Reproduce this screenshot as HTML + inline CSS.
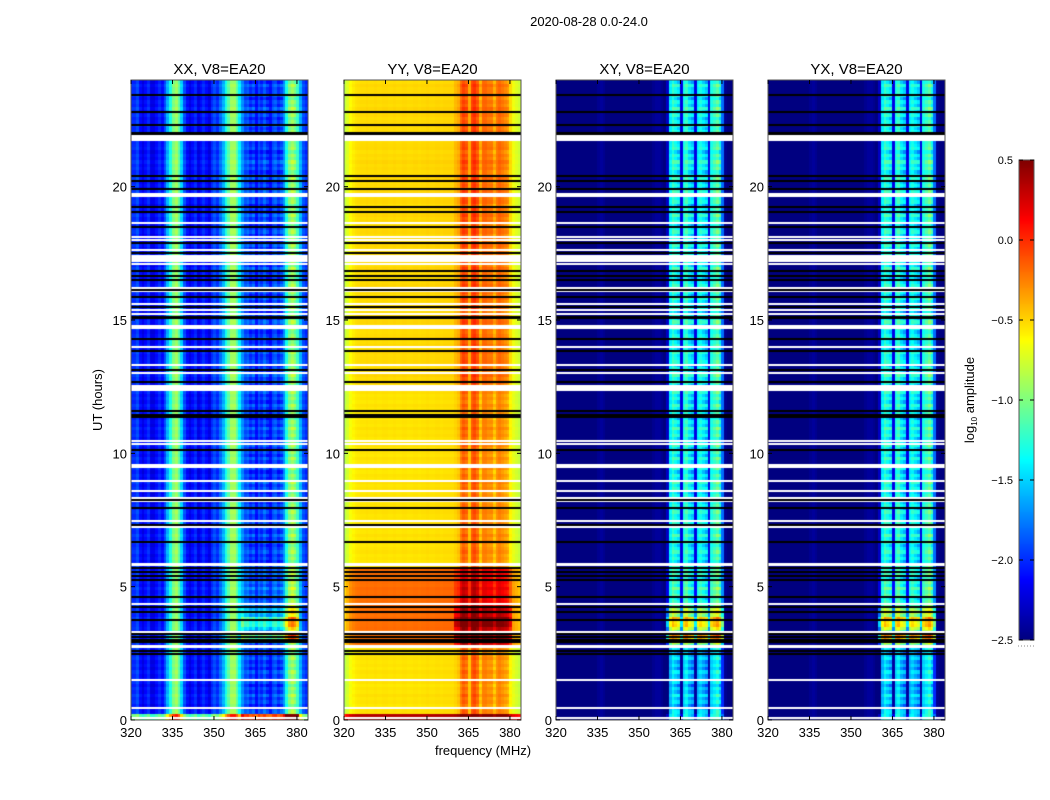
<!DOCTYPE html>
<html><head><meta charset="utf-8"><style>
html,body{margin:0;padding:0;background:#fff;}
#wrap{position:relative;width:1050px;height:800px;overflow:hidden;font-family:"Liberation Sans",sans-serif;}
canvas,svg{position:absolute;left:0;top:0;}
</style></head><body>
<div id="wrap">
<canvas id="cv" width="1050" height="800"></canvas>
<svg id="sv" width="1050" height="800"></svg>
</div>
<script>
// ---- data ----
const freqStart = 320, freqEnd = 384;
const panelTitles = ["XX, V8=EA20","YY, V8=EA20","XY, V8=EA20","YX, V8=EA20"];
const xTickLabels = [320,335,350,365,380];
const yTickLabels = [0,5,10,15,20];
const cbTickLabels = [0.5,0.0,-0.5,-1.0,-1.5,-2.0,-2.5];
const profXX = [-2.0,-2.0,-1.9,-2.1,-2.2,-2.1,-2.0,-2.2,-2.2,-2.1,-2.0,-2.1,-1.9,-1.6,-1.3,-1.0,-0.9,-1.1,-1.5,-1.9,-2.1,-2.2,-2.1,-2.0,-2.2,-2.1,-2.0,-2.1,-2.2,-2.0,-1.9,-2.0,-1.8,-1.6,-1.3,-1.1,-0.9,-0.9,-1.1,-1.4,-1.7,-1.9,-1.85,-2.0,-1.9,-2.1,-1.9,-2.0,-1.85,-2.0,-2.1,-1.9,-1.85,-2.0,-1.9,-1.7,-1.3,-1.0,-0.9,-1.0,-1.2,-1.6,-1.9,-2.0];
const profYY = [-0.85,-0.75,-0.65,-0.6,-0.57,-0.56,-0.55,-0.55,-0.54,-0.55,-0.55,-0.54,-0.55,-0.55,-0.54,-0.54,-0.55,-0.55,-0.54,-0.55,-0.55,-0.54,-0.54,-0.55,-0.55,-0.54,-0.54,-0.55,-0.54,-0.54,-0.53,-0.54,-0.54,-0.53,-0.53,-0.54,-0.53,-0.53,-0.53,-0.53,-0.5,-0.45,-0.25,-0.15,-0.2,-0.45,-0.15,-0.1,-0.2,-0.45,-0.25,-0.25,-0.3,-0.3,-0.45,-0.3,-0.25,-0.3,-0.35,-0.4,-0.6,-0.7,-0.75,-0.8];
const profXY = [-2.5,-2.5,-2.5,-2.5,-2.5,-2.5,-2.5,-2.5,-2.5,-2.5,-2.5,-2.5,-2.5,-2.5,-2.5,-2.45,-2.42,-2.45,-2.5,-2.5,-2.5,-2.5,-2.5,-2.5,-2.5,-2.5,-2.5,-2.5,-2.5,-2.5,-2.5,-2.5,-2.5,-2.5,-2.5,-2.45,-2.42,-2.42,-2.45,-2.5,-2.3,-1.4,-1.2,-1.3,-1.4,-2.2,-1.3,-1.2,-1.4,-1.5,-2.2,-1.4,-1.3,-1.4,-1.5,-2.2,-1.3,-1.2,-1.1,-1.3,-1.8,-2.45,-2.5,-2.5];
const profYX = [-2.5,-2.5,-2.5,-2.5,-2.5,-2.5,-2.5,-2.5,-2.5,-2.5,-2.5,-2.5,-2.5,-2.5,-2.5,-2.45,-2.42,-2.45,-2.5,-2.5,-2.5,-2.5,-2.5,-2.5,-2.5,-2.5,-2.5,-2.5,-2.5,-2.5,-2.5,-2.5,-2.5,-2.5,-2.5,-2.45,-2.42,-2.42,-2.45,-2.5,-2.3,-1.4,-1.2,-1.3,-1.4,-2.2,-1.3,-1.2,-1.4,-1.5,-2.2,-1.4,-1.3,-1.4,-1.5,-2.2,-1.3,-1.2,-1.1,-1.3,-1.8,-2.45,-2.5,-2.5];
const segBounds = [0,0.2,2.8,3.0,3.3,3.5,3.9,4.3,5.8,12.4,24];
const broadXX = [1.0,0,0,0,0,0,0,0,0,0];
const rfiXX   = [0.9,0,0,0.9,0.4,0.7,0.4,0.1,0,0];
const broadYY = [0.9,0,0.35,0.35,0.35,0.35,0.35,0.35,0,0.03];
const rfiYY   = [0,0,0.2,0.45,0.25,0.45,0.3,0.1,0,0.05];
const broadXY = [0,0,0,0,0,0,0,0,0,0];
const rfiXY   = [0,-0.2,0.3,1.0,0.5,0.8,0.5,0.1,0,0];
const broadYX = [0,0,0,0,0,0,0,0,0,0];
const rfiYX   = [0,-0.2,0.3,1.0,0.5,0.8,0.5,0.1,0,0];
const rowTexture = [0.1,-0.2,0.3,0,-0.3,0.2,-0.1,0.4,-0.2,0.1,-0.4,0.2,0,-0.1,0.3,-0.3];
const flagStart = [21.71,19.61,18.6,18.08,17.97,17.63,17.17,17.08,16.83,16.2,16.09,15.6,15.38,15.23,14.66,14.0,13.3,13.0,12.52,12.34,10.45,10.33,9.55,9.5,8.96,8.58,8.32,8.2,7.47,7.24,5.77,4.35,3.3,2.7,1.5,0.45,0.08];
const flagEnd   = [21.94,19.76,18.66,18.14,18.03,17.68,17.44,17.12,16.87,16.24,16.13,15.64,15.42,15.27,14.81,14.04,13.34,13.04,12.56,12.52,10.5,10.38,9.59,9.54,9.0,8.62,8.36,8.24,7.51,7.28,5.89,4.39,3.34,2.81,1.54,0.49,0.12];
const gapLines = [23.44,22.8,22.31,22.01,21.98,20.4,20.21,19.91,19.24,19.05,18.49,17.89,17.51,16.84,16.65,16.5,16.13,15.86,15.49,15.11,15.08,14.29,13.84,13.13,12.68,11.59,11.44,11.36,10.13,8.25,7.95,7.31,6.68,5.7,5.55,5.4,5.25,4.61,4.24,4.05,3.75,3.23,3.11,3.0,2.93,2.59,2.48];

// ---- layout ----
const panelsX = [131,344,556,768], pw = 177, py0 = 80, py1 = 720;
const profs = [profXX,profYY,profXY,profYX];
const broads = [broadXX,broadYY,broadXY,broadYX];
const rfis = [rfiXX,rfiYY,rfiXY,rfiYX];
const texScale = [0.12,0.04,0.0,0.0], rfiTex = [0.3,0.15,0.6,0.6];
const vmin=-2.5, vmax=0.5;
function xs(p,f){return panelsX[p]+(f-freqStart)/(freqEnd-freqStart)*pw;}
function ys(h){return py1-(h/24)*(py1-py0);}
function jet(v){let t=(v-vmin)/(vmax-vmin);t=Math.max(0,Math.min(1,t));
 const c=x=>Math.round(255*Math.max(0,Math.min(1,x)));
 return `rgb(${c(1.5-Math.abs(4*t-3))},${c(1.5-Math.abs(4*t-2))},${c(1.5-Math.abs(4*t-1))})`;}
function seg(h){for(let i=0;i<segBounds.length-1;i++){if(h<segBounds[i+1])return i;}return segBounds.length-2;}

const ctx=document.getElementById('cv').getContext('2d');
const dh=0.125, nrows=Math.round(24/dh);
for(let p=0;p<4;p++){
 const prof=profs[p];
 for(let r=0;r<nrows;r++){
  const h=r*dh, s=seg(h+dh/2), tx=rowTexture[r%rowTexture.length];
  for(let i=0;i<prof.length;i++){
   const f=freqStart+i, inRfi=f>=360&&f<=380;
   let v=prof[i]+broads[p][s]+tx*texScale[p];
   if(inRfi){v+=rfis[p][s]+tx*rfiTex[p]*((i%5)/4);}
   ctx.fillStyle=jet(v);
   const x0=xs(p,f), x1=xs(p,f+1), y0=ys(h+dh), y1=ys(h);
   ctx.fillRect(Math.floor(x0),Math.floor(y0),Math.ceil(x1)-Math.floor(x0),Math.ceil(y1)-Math.floor(y0));
  }
 }
 ctx.fillStyle='#fff';
 for(let k=0;k<flagStart.length;k++){const y0=Math.round(ys(flagEnd[k])),y1=Math.round(ys(flagStart[k]));ctx.fillRect(panelsX[p],y0,pw,Math.max(2,y1-y0));}
 ctx.fillStyle='#000';
 for(let k=0;k<gapLines.length;k++){ctx.fillRect(panelsX[p],Math.round(ys(gapLines[k]))-1,pw,2);}
}
// colorbar
const cbx=1019,cbw=15,cby0=160,cby1=640;
for(let y=cby0;y<cby1;y++){ctx.fillStyle=jet(vmax-(y-cby0+0.5)/(cby1-cby0)*(vmax-vmin));ctx.fillRect(cbx,y,cbw,1);}

// ---- SVG overlay ----
const NS='http://www.w3.org/2000/svg', sv=document.getElementById('sv');
function el(tag,attrs,txt){const e=document.createElementNS(NS,tag);for(const k in attrs)e.setAttribute(k,attrs[k]);if(txt!==undefined)e.textContent=txt;sv.appendChild(e);return e;}
let t;
t=el('text',{x:589,y:26,'font-size':13,'text-anchor':'middle',fill:'#000'},'2020-08-28 0.0-24.0');


for(let p=0;p<4;p++){
 const x0=panelsX[p];
 const fr=el('rect',{x:x0,y:py0,width:pw,height:py1-py0,fill:'none',stroke:'#555','stroke-width':1});
 
 
 t=el('text',{x:x0+pw/2,y:74,'font-size':15,'text-anchor':'middle',fill:'#000'},panelTitles[p]);
 
 
 for(const v of xTickLabels){const x=xs(p,v);
  el('line',{x1:x,x2:x,y1:py1,y2:py1-4,stroke:'#000'});el('line',{x1:x,x2:x,y1:py0,y2:py0+4,stroke:'#000'});
  t=el('text',{x:x,y:737,'font-size':13,'text-anchor':'middle',fill:'#000'},String(v));
  
  }
 for(const v of yTickLabels){const y=ys(v);
  el('line',{x1:x0,x2:x0+4,y1:y,y2:y,stroke:'#000'});el('line',{x1:x0+pw,x2:x0+pw-4,y1:y,y2:y,stroke:'#000'});
  t=el('text',{x:x0-4,y:y+5,'font-size':13,'text-anchor':'end',fill:'#000'},String(v));
  
  }
}
t=el('text',{x:0,y:0,'font-size':13,'text-anchor':'middle',fill:'#000',transform:'translate(102,400) rotate(-90)'},'UT (hours)');


t=el('text',{x:483,y:755,'font-size':13,'text-anchor':'middle',fill:'#000'},'frequency (MHz)');


const cf=el('rect',{x:cbx,y:cby0,width:cbw,height:cby1-cby0,fill:'none',stroke:'#555'});


for(const v of cbTickLabels){const y=cby0+(vmax-v)/(vmax-vmin)*(cby1-cby0);
 el('line',{x1:cbx,x2:cbx+4,y1:y,y2:y,stroke:'#000'});el('line',{x1:cbx+cbw,x2:cbx+cbw-4,y1:y,y2:y,stroke:'#000'});
 t=el('text',{x:1013,y:y+4,'font-size':11,'text-anchor':'end',fill:'#000'},(v<0?'\u2212':'')+Math.abs(v).toFixed(1));
 
 }
el('line',{x1:1018,x2:1034,y1:646,y2:646,stroke:'#888','stroke-dasharray':'1,2'});
t=el('text',{x:0,y:0,'font-size':13,'text-anchor':'middle',fill:'#000',transform:'translate(974,400) rotate(-90)'});


t.innerHTML='log<tspan font-size="8" dy="3">10</tspan><tspan dy="-3"> amplitude</tspan>';
</script>
</body></html>
